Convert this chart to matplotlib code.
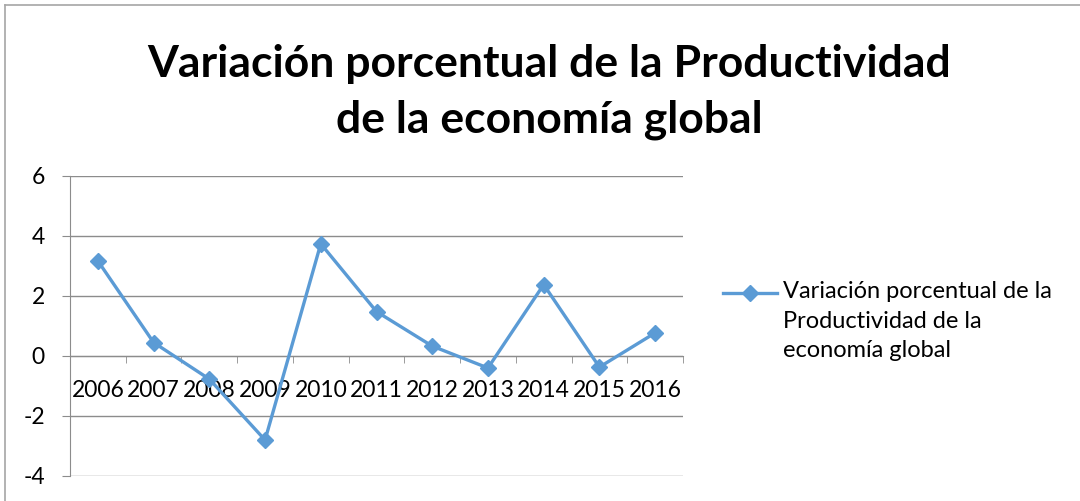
import numpy as np
import matplotlib.pyplot as plt
from matplotlib.lines import Line2D

plt.rcParams['font.family'] = ['Lato', 'DejaVu Sans']
plt.rcParams['axes.unicode_minus'] = False

years = ['2006', '2007', '2008', '2009', '2010', '2011',
         '2012', '2013', '2014', '2015', '2016']
variacion = [3.17, 0.45, -0.77, -2.8, 3.74, 1.48, 0.33, -0.4, 2.38, -0.37, 0.77]
serie = 'Variación porcentual de la\nProductividad de la\neconomía global'
titulo = 'Variación porcentual de la Productividad\nde la economía global'

blue = '#5B9BD5'
gray = '#8C8C8C'
W, H = 1080, 501

fig = plt.figure(figsize=(10.8, 5.01), dpi=100)
ax = fig.add_axes([70 / W, 25 / H, 613 / W, 300 / H])

x = np.arange(len(years))
ax.plot(x, variacion, color=blue, lw=2.4, marker='D', markersize=8,
        zorder=3)

ax.set_xlim(-0.5, len(years) - 0.5)
ax.set_ylim(-4, 6)
ax.set_yticks([-4, -2, 0, 2, 4, 6])
ax.grid(axis='y', color=gray, lw=1)
ax.set_axisbelow(True)

for s in ['top', 'right']:
    ax.spines[s].set_visible(False)
ax.spines['left'].set_color(gray)
ax.spines['bottom'].set_color(gray)
ax.spines['bottom'].set_position(('data', 0))

ax.set_xticks(x)
ax.set_xticklabels(years)
ax.set_xticks(np.arange(-0.5, len(years)), minor=True)
ax.tick_params(axis='x', which='major', length=0, pad=17, labelsize=16.5)
ax.tick_params(axis='x', which='minor', length=5, color=gray, direction='out')
ax.tick_params(axis='y', length=6, color=gray, pad=12, labelsize=16.5)

fig.text(549 / W, 1 - 92 / H, titulo, ha='center', va='center', fontsize=32,
         fontweight='bold', linespacing=1.47)

# legend drawn by hand so the key sits on the first text line
fig.add_artist(Line2D([723 / W, 750 / W, 777 / W], [1 - 293 / H] * 3, color=blue,
                      lw=2.4, marker='D', markersize=8, markevery=[1]))
fig.text(783 / W, 1 - 281 / H, serie, ha='left', va='top', fontsize=17,
         linespacing=1.5)

# chart area frame (top and left)
fig.add_artist(Line2D([5 / W, 5 / W], [0, 1 - 5 / H], color='#A6A6A6', lw=1.2))
fig.add_artist(Line2D([5 / W, 1], [1 - 5 / H, 1 - 5 / H], color='#A6A6A6', lw=1.2))

fig.savefig('out.png', dpi=100)
